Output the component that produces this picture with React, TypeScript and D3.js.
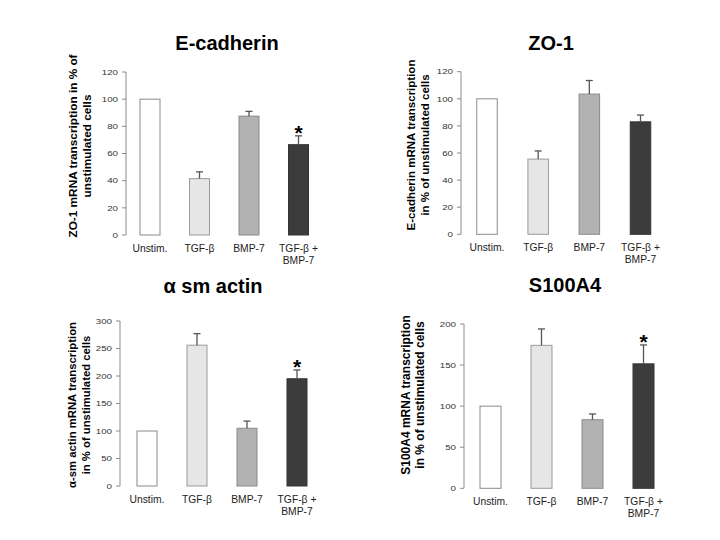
import React from "react";
import * as d3 from "d3";

const categories = ["Unstim.", "TGF-β", "BMP-7", "TGF-β +\nBMP-7"];

const titles = ["E-cadherin", "ZO-1", "α sm actin", "S100A4"];
const yLabels = [
  ["ZO-1 mRNA transcription in % of", "unstimulated cells"],
  ["E-cadherin mRNA transcription", "in % of unstimulated cells"],
  ["α-sm actin mRNA transcription", "in % of unstimulated cells"],
  ["S100A4 mRNA transcription", "in % of unstimulated cells"],
];
const yMaxes = [120, 120, 300, 200];
const yTickSteps = [20, 20, 50, 50];

const eCadherinValues = [100, 41.5, 87.5, 66.5];
const eCadherinErrors = [0, 5, 3.5, 6.5];
const zo1Values = [100, 55.5, 103.5, 83];
const zo1Errors = [0, 6, 10, 5];
const smActinValues = [100, 256, 105, 195];
const smActinErrors = [0, 21, 13, 16];
const s100a4Values = [100, 174, 83.5, 151.5];
const s100a4Errors = [0, 20, 7, 23];
const significant = [
  [false, false, false, true],
  [false, false, false, false],
  [false, false, false, true],
  [false, false, false, true],
];

const seriesValues = [eCadherinValues, zo1Values, smActinValues, s100a4Values];
const seriesErrors = [eCadherinErrors, zo1Errors, smActinErrors, s100a4Errors];

const barFills = ["#ffffff", "#e6e6e6", "#b2b2b2", "#3c3c3c"];
const barStrokes = ["#8a8a8a", "#9a9a9a", "#8a8a8a", "#333333"];

// layout per panel
const layouts = [
  { axisX: 126, y0: 235, yTop: 72, c0: 150, c1: 298.5, bw: 20, titleX: 227, titleY: 49.5, labX: [73, 87], labY: 146, labFs: 11.8 },
  { axisX: 461, y0: 234.3, yTop: 71.7, c0: 487, c1: 640.5, bw: 20.5, titleX: 551, titleY: 49.5, labX: [411, 425], labY: 145, labFs: 11.5 },
  { axisX: 120, y0: 486, yTop: 321, c0: 147, c1: 297, bw: 20, titleX: 213, titleY: 292.5, labX: [72, 86], labY: 405, labFs: 11.3 },
  { axisX: 464, y0: 488.3, yTop: 324, c0: 490.5, c1: 643.5, bw: 21, titleX: 565, titleY: 291.5, labX: [406, 420], labY: 395, labFs: 12 },
];

const FONT = "'Liberation Sans', Arial, sans-serif";

function Panel({ i }: { i: number }) {
  const L = layouts[i];
  const y = d3.scaleLinear().domain([0, yMaxes[i]]).range([L.y0, L.yTop]);
  const x = d3.scalePoint<string>().domain(categories).range([L.c0, L.c1]);
  const ticks = d3.range(0, yMaxes[i] + 0.001, yTickSteps[i]);
  const vals = seriesValues[i];
  const errs = seriesErrors[i];
  return (
    <g>
      <text x={L.titleX} y={L.titleY} textAnchor="middle" fontFamily={FONT} fontWeight="bold" fontSize={20} fill="#000">
        {titles[i]}
      </text>
      {yLabels[i].map((s, k) => (
        <text
          key={k}
          transform={`translate(${L.labX[k]},${L.labY}) rotate(-90)`}
          textAnchor="middle"
          dominantBaseline="central"
          fontFamily={FONT}
          fontWeight="bold"
          fontSize={L.labFs}
          fill="#000"
        >
          {s}
        </text>
      ))}
      <line x1={L.axisX} x2={L.axisX} y1={y(yMaxes[i])} y2={y(0)} stroke="#8c8c8c" strokeWidth={1} />
      {ticks.map((t) => (
        <g key={t}>
          <line x1={L.axisX - 4} x2={L.axisX} y1={y(t)} y2={y(t)} stroke="#8c8c8c" strokeWidth={1} />
          <text
            transform={`translate(${L.axisX - 8},${y(t) + 2.7}) scale(1.3,1)`}
            textAnchor="end"
            fontFamily={FONT}
            fontSize={7.5}
            fill="#333"
          >
            {t}
          </text>
        </g>
      ))}
      {categories.map((c, k) => {
        const cx = x(c) as number;
        const top = y(vals[k]);
        const errTop = y(vals[k] + errs[k]);
        return (
          <g key={c}>
            <rect
              x={cx - L.bw / 2}
              y={top}
              width={L.bw}
              height={y(0) - top}
              fill={barFills[k]}
              stroke={barStrokes[k]}
              strokeWidth={1}
            />
            {errs[k] > 0 && (
              <g stroke="#555" strokeWidth={1.3}>
                <line x1={cx} x2={cx} y1={top} y2={errTop} />
                <line x1={cx - 3.5} x2={cx + 3.5} y1={errTop} y2={errTop} />
              </g>
            )}
            {significant[i][k] && (
              <text x={cx} y={errTop + 4} textAnchor="middle" fontFamily={FONT} fontWeight="bold" fontSize={21} fill="#000">
                *
              </text>
            )}
            {c.split("\n").map((line, j) => (
              <text
                key={j}
                x={cx}
                y={L.y0 + 16.5 + j * 12}
                textAnchor="middle"
                fontFamily={FONT}
                fontSize={10.3}
                fill="#222"
              >
                {line}
              </text>
            ))}
          </g>
        );
      })}
    </g>
  );
}

export default function App() {
  return (
    <svg width={720} height={540} style={{ position: "absolute", left: 0, top: 0, background: "#fff" }}>
      <rect x={0} y={0} width={720} height={540} fill="#fff" />
      {[0, 1, 2, 3].map((i) => (
        <Panel key={i} i={i} />
      ))}
    </svg>
  );
}
